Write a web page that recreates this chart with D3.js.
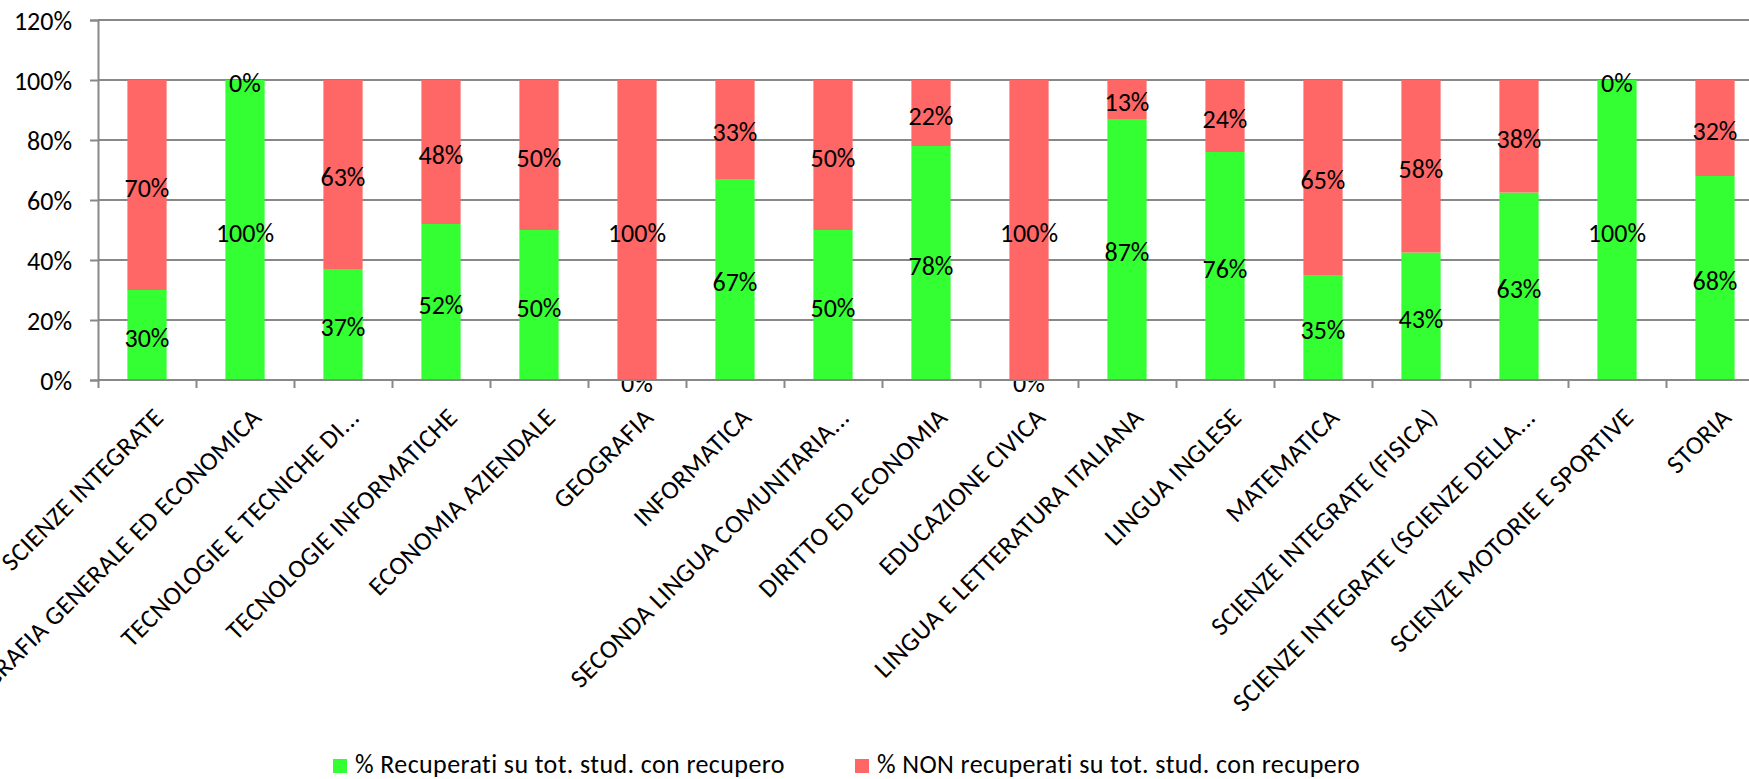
<!DOCTYPE html>
<html>
<head>
<meta charset="utf-8">
<script src="https://cdn.jsdelivr.net/npm/d3@7"></script>
<style>
  body { margin: 0; background: #fff; }
  text { font-family: Carlito, Calibri, Lato, sans-serif; fill: #000; }
</style>
</head>
<body>
<div id="chart"></div>
<script>
// categories (x axis)
var categories = [
  "SCIENZE INTEGRATE",
  "GEOGRAFIA GENERALE ED ECONOMICA",
  "TECNOLOGIE E TECNICHE DI...",
  "TECNOLOGIE INFORMATICHE",
  "ECONOMIA AZIENDALE",
  "GEOGRAFIA",
  "INFORMATICA",
  "SECONDA LINGUA COMUNITARIA...",
  "DIRITTO ED ECONOMIA",
  "EDUCAZIONE CIVICA",
  "LINGUA E LETTERATURA ITALIANA",
  "LINGUA INGLESE",
  "MATEMATICA",
  "SCIENZE INTEGRATE (FISICA)",
  "SCIENZE INTEGRATE (SCIENZE DELLA...",
  "SCIENZE MOTORIE E SPORTIVE",
  "STORIA"
];

// % recuperati / % non recuperati
var recuperati    = [0.30, 1.00, 0.37, 0.52, 0.50, 0.00, 0.67, 0.50, 0.78, 0.00, 0.87, 0.76, 0.35, 0.425, 0.625, 1.00, 0.68];
var nonRecuperati = [0.70, 0.00, 0.63, 0.48, 0.50, 1.00, 0.33, 0.50, 0.22, 1.00, 0.13, 0.24, 0.65, 0.575, 0.375, 0.00, 0.32];

var seriesNames = ["% Recuperati su tot. stud. con recupero", "% NON recuperati su tot. stud. con recupero"];
var seriesColors = ["#33ff33", "#ff6666"];
var yTicks = [0, 0.2, 0.4, 0.6, 0.8, 1.0, 1.2];

var width = 1749, height = 779;
var plotLeft = 98, plotTop = 20, plotBottom = 380;
var band = 98;
var fontSize = 26;
var gridColor = "#888888";

var svg = d3.select("#chart").append("svg")
  .attr("width", width)
  .attr("height", height);

var x = d3.scaleBand()
  .domain(categories)
  .range([plotLeft, plotLeft + band * categories.length]);

var y = d3.scaleLinear().domain([0, 1.2]).range([plotBottom, plotTop]);

// half-up rounding like the spreadsheet does
function pct(v){ return Math.round(v * 100 + 1e-6) + "%"; }

// gridlines
svg.append("g").selectAll("line")
  .data(yTicks.filter(function(d){ return d > 0; }))
  .enter().append("line")
  .attr("x1", plotLeft).attr("x2", width)
  .attr("y1", function(d){ return y(d); })
  .attr("y2", function(d){ return y(d); })
  .attr("stroke", gridColor).attr("stroke-width", 2);

// stack the two series
var rows = categories.map(function(c, i){
  return { cat: c, rec: recuperati[i], non: nonRecuperati[i] };
});
var layers = d3.stack().keys(["rec", "non"])(rows);

var barW = x.bandwidth() * 0.4;

var layerG = svg.append("g").selectAll("g")
  .data(layers)
  .enter().append("g")
  .attr("fill", function(d, i){ return seriesColors[i]; });

layerG.selectAll("rect")
  .data(function(d){ return d; })
  .enter().append("rect")
  .attr("x", function(d){ return x(d.data.cat) + (x.bandwidth() - barW) / 2; })
  .attr("width", barW)
  .attr("y", function(d){ return y(d[1]); })
  .attr("height", function(d){ return y(d[0]) - y(d[1]); });

// y axis
var yAxis = svg.append("g")
  .attr("transform", "translate(" + plotLeft + ",0)")
  .call(d3.axisLeft(y).tickValues(yTicks).tickFormat(pct).tickSize(8).tickPadding(18));
yAxis.select(".domain").attr("stroke", gridColor).attr("stroke-width", 2);
yAxis.selectAll(".tick line").attr("stroke", gridColor).attr("stroke-width", 2);
yAxis.selectAll(".tick text")
  .style("font-size", fontSize + "px")
  .attr("dy", "0.36em");

// x axis, ticks on category boundaries
var xb = d3.scaleLinear().domain([0, categories.length]).range([plotLeft, plotLeft + band * categories.length]);
var xAxis = svg.append("g")
  .attr("transform", "translate(0," + plotBottom + ")")
  .call(d3.axisBottom(xb).tickValues(d3.range(categories.length + 1)).tickSize(8).tickFormat(""));
xAxis.select(".domain").attr("stroke", gridColor).attr("stroke-width", 2).attr("d", "M" + plotLeft + ",0H" + width);
xAxis.selectAll(".tick line").attr("stroke", gridColor).attr("stroke-width", 2);

// category labels, rotated
svg.append("g").selectAll("text")
  .data(categories)
  .enter().append("text")
  .attr("text-anchor", "end")
  .attr("transform", function(d){
    return "translate(" + (x(d) + x.bandwidth() / 2 + 18) + "," + (plotBottom + 39) + ") rotate(-45)";
  })
  .style("font-size", fontSize + "px")
  .style("letter-spacing", "0.4px")
  .text(function(d){ return d; });

// data labels
layerG.selectAll("text.lbl")
  .data(function(d){ return d; })
  .enter().append("text")
  .attr("class", "lbl")
  .attr("text-anchor", "middle")
  .attr("x", function(d){ return x(d.data.cat) + x.bandwidth() / 2; })
  .attr("y", function(d){ return (y(d[0]) + y(d[1])) / 2; })
  .attr("dy", "0.45em")
  .style("font-size", fontSize + "px")
  .style("fill", "#000")
  .text(function(d){ return pct(d[1] - d[0]); });

// legend
var legendX = [333, 855];
var leg = svg.append("g").selectAll("g")
  .data(seriesNames)
  .enter().append("g")
  .attr("transform", function(d, i){ return "translate(" + legendX[i] + ",759)"; });
leg.append("rect")
  .attr("width", 14).attr("height", 14)
  .attr("fill", function(d, i){ return seriesColors[i]; });
leg.append("text")
  .attr("x", 22).attr("y", 14)
  .style("font-size", fontSize + "px")
  .style("letter-spacing", "0.4px")
  .text(function(d){ return d; });
</script>
</body>
</html>
